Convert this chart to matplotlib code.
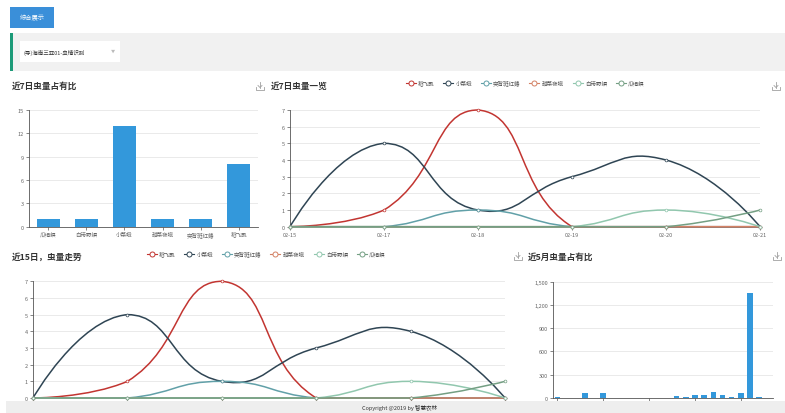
import numpy as np
import matplotlib
matplotlib.use("Agg")
import matplotlib.pyplot as plt
from matplotlib.path import Path
from matplotlib.patches import PathPatch, Rectangle
from matplotlib.lines import Line2D

plt.rcParams['font.family'] = ['Noto Sans CJK SC', 'DejaVu Sans']

W, H = 785, 414

# ---- data ----
pests = ['稻飞虱', '小菜蛾', '突背斑红蝽', '甜菜夜蛾', '白带野螟', '瓜绢螟']
pest_colors = ['#c23531', '#2f4554', '#61a0a8', '#d48265', '#91c7ae', '#749f83']

week_dates = ['02-15', '02-17', '02-18', '02-19', '02-20', '02-21']
rice_planthopper = [0, 1, 7, 0, 0, 0]
diamondback_moth = [0, 5, 1, 3, 4, 0]
stink_bug = [0, 0, 1, 0, 0, 0]
beet_armyworm = [0, 0, 0, 0, 0, 0]
webworm = [0, 0, 0, 0, 1, 0]
melon_worm = [0, 0, 0, 0, 0, 1]
week_series = [rice_planthopper, diamondback_moth, stink_bug,
               beet_armyworm, webworm, melon_worm]

share_names = ['瓜绢螟', '白带野螟', '小菜蛾', '甜菜夜蛾', '突背斑红蝽', '稻飞虱']
share_counts = [1, 1, 13, 1, 1, 8]

month_counts = [10, 0, 0, 68, 0, 60, 3, 0, 4, 4, 0, 0,
                3, 28, 12, 40, 40, 78, 35, 18, 62, 1350, 12, 0]

BAR = '#3398db'
AXC = '#555555'
LBL = '#666666'
GRID = '#e6e6e6'


def px_axes(fig, x0, y0, x1, y1):
    return fig.add_axes([x0 / W, 1 - y1 / H, (x1 - x0) / W, (y1 - y0) / H])


def style_axes(ax):
    for s in ('top', 'right'):
        ax.spines[s].set_visible(False)
    for s in ('left', 'bottom'):
        ax.spines[s].set_color(AXC)
        ax.spines[s].set_linewidth(0.6)
    ax.tick_params(colors=AXC, labelcolor=LBL, labelsize=4, length=2,
                   width=0.5, pad=1.5)
    ax.yaxis.grid(True, color=GRID, lw=0.6)
    ax.set_axisbelow(True)


def smooth_path(ax, xs, ys, smooth=0.5):
    # echarts-style smoothed polyline, control points clamped to bbox
    pts = ax.transData.transform(np.column_stack([xs, ys]).astype(float))
    lo, hi = pts.min(axis=0), pts.max(axis=0)
    verts, codes = [pts[0]], [Path.MOVETO]
    cp0 = pts[0].copy()
    n = len(pts)
    for i in range(1, n):
        p = pts[i]
        if i == n - 1:
            cp1 = p.copy()
            nxt = None
        else:
            v = pts[i + 1] - pts[i - 1]
            d0 = np.hypot(*(p - pts[i - 1]))
            d1 = np.hypot(*(pts[i + 1] - p))
            r = d1 / (d0 + d1)
            cp1 = np.clip(p - v * smooth * (1 - r), lo, hi)
            nxt = np.clip(p + v * smooth * r, lo, hi)
        verts += [cp0, cp1, p]
        codes += [Path.CURVE4] * 3
        if nxt is not None:
            cp0 = nxt
    verts = ax.transData.inverted().transform(np.array(verts))
    return Path(verts, codes)


def line_panel(ax, show_labels=True):
    x = np.arange(len(week_dates))
    ax.set_xlim(0, len(week_dates) - 1)
    ax.set_ylim(0, 7)
    ax.set_yticks(range(0, 8))
    ax.set_xticks(x)
    ax.set_xticklabels(week_dates)
    style_axes(ax)
    if not show_labels:
        # the page footer hides this panel's date labels
        ax.tick_params(labelbottom=False)
    for vals, c in zip(week_series, pest_colors):
        ax.add_patch(PathPatch(smooth_path(ax, x, vals), fc='none', ec=c,
                               lw=1.1, zorder=3, clip_on=False))
        ax.plot(x, vals, 'o', ms=2.0, mfc='white', mec=c, mew=0.5,
                zorder=4, clip_on=False)


def legend(fig, cx, cy):
    handles = [Line2D([], [], color=c, lw=0.8, marker='o', ms=3.6,
                      mfc='white', mec=c, mew=0.7) for c in pest_colors]
    fig.legend(handles, pests, loc='center', bbox_to_anchor=(cx / W, 1 - cy / H),
               ncol=6, frameon=False, fontsize=4, handlelength=1.8,
               handletextpad=0.4, columnspacing=1.6, labelcolor='#555555')


def box(fig, x0, y0, x1, y1, color, z=1):
    fig.add_artist(Rectangle((x0 / W, 1 - y1 / H), (x1 - x0) / W, (y1 - y0) / H,
                             transform=fig.transFigure, fc=color, ec='none',
                             zorder=z))


def ftext(fig, x, y, s, **kw):
    fig.text(x / W, 1 - y / H, s, va='center', **kw)


def download_icon(fig, cx, cy):
    c = '#a0a0a0'
    segs = [([cx, cx], [cy - 4, cy + 1.5]),
            ([cx - 2, cx, cx + 2], [cy - 0.5, cy + 1.5, cy - 0.5]),
            ([cx - 4, cx - 4, cx + 4, cx + 4], [cy + 1, cy + 3.5, cy + 3.5, cy + 1])]
    for xs, ys in segs:
        fig.add_artist(Line2D(np.array(xs) / W, 1 - np.array(ys) / H,
                              transform=fig.transFigure, color=c, lw=0.6))


fig = plt.figure(figsize=(W / 100, H / 100), dpi=100)
fig.patch.set_facecolor('white')

# header controls
box(fig, 10, 8, 54, 29, '#3a8fd9')
ftext(fig, 32, 18.5, '综合展示', ha='center', color='white', fontsize=4.5)
box(fig, 10, 34, 785, 72, '#f1f1f1')
box(fig, 10, 34, 12.5, 72, '#1c9a78')
box(fig, 20, 42, 120, 63, 'white')
ftext(fig, 24, 52.5, '(导)海南三亚01-虫情识别', ha='left', color='#333333', fontsize=4)
ftext(fig, 113, 52, '▼', ha='center', color='#bbbbbb', fontsize=3)

# titles
tkw = dict(ha='left', color='#333333', fontsize=6.2, fontweight='bold')
ftext(fig, 12, 86, '近7日虫量占有比', **tkw)
ftext(fig, 271, 86, '近7日虫量一览', **tkw)
ftext(fig, 12, 257, '近15日，虫量走势', **tkw)
ftext(fig, 528, 257, '近5月虫量占有比', **tkw)
for cx, cy in [(260, 87), (776, 87), (518, 257), (777, 257)]:
    download_icon(fig, cx, cy)

# panel 1: 7-day share bars
ax1 = px_axes(fig, 29, 111, 258, 227.7)
style_axes(ax1)
ax1.bar(range(len(share_names)), share_counts, width=0.6, color=BAR)
ax1.set_xlim(-0.5, len(share_names) - 0.5)
ax1.set_ylim(0, 15)
ax1.set_yticks(range(0, 16, 3))
ax1.set_xticks(range(len(share_names)))
ax1.set_xticklabels(share_names)

# panel 2: 7-day lines
ax2 = px_axes(fig, 290, 111, 760, 227.7)
line_panel(ax2)
legend(fig, 525, 84)

# panel 3: 15-day trend
ax3 = px_axes(fig, 33, 282.3, 505, 399)
line_panel(ax3, show_labels=False)
legend(fig, 266, 255)

# panel 4: 5-month bars
ax4 = px_axes(fig, 552.7, 282.7, 773, 399)
style_axes(ax4)
mx = np.arange(len(month_counts))
ax4.bar(mx, month_counts, width=0.6, color=BAR)
ax4.set_xlim(-0.5, len(month_counts) - 0.5)
ax4.set_ylim(0, 1500)
ax4.set_yticks(range(0, 1501, 300))
ax4.set_yticklabels([f'{v:,}' for v in range(0, 1501, 300)])
ax4.set_xticks(mx[::5])
ax4.set_xticklabels([''] * len(mx[::5]))

# footer
box(fig, 6, 401.7, 785, 414, '#eeeeee', z=20)
fig.text(400 / W, 1 - 408 / H, 'Copyright @2019 by 智慧农林', ha='center',
         va='center', color='#333333', fontsize=4, zorder=21)

fig.savefig('out.png', dpi=100)
